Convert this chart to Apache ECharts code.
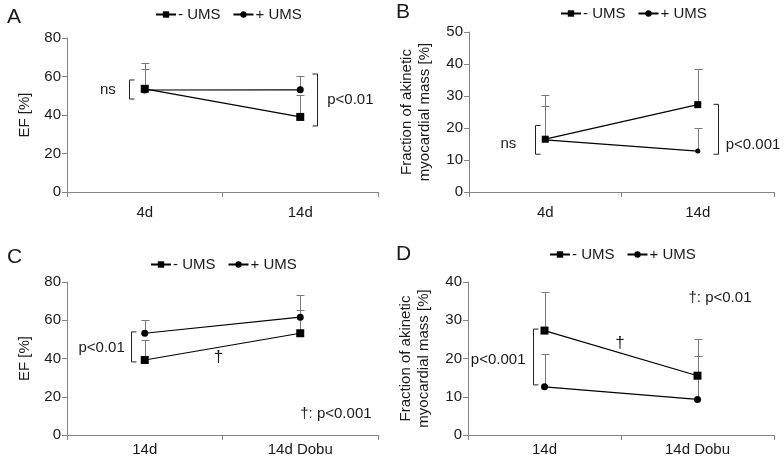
<!DOCTYPE html>
<html><head><meta charset="utf-8">
<script src="https://cdn.jsdelivr.net/npm/echarts@6/dist/echarts.min.js"></script>
<style>html,body{margin:0;padding:0;background:#fff}#c{width:784px;height:465px}</style>
</head><body><div id="c"></div>
<script>
// ---------- data ----------
const catsAB = ['4d', '14d'];
const catsCD = ['14d', '14d Dobu'];
const seriesNames = ['- UMS', '+ UMS'];
// Panel A: EF [%]
const aMinus = [53.6, 39.0];
const aMinusTop = [63.9, 50.2];
const aPlus = [53.0, 53.1];
const aPlusTop = [67.0, 60.4];
// Panel B: fraction of akinetic myocardial mass [%]
const bMinus = [16.5, 27.3];
const bMinusTop = [26.9, 38.4];
const bPlus = [16.3, 12.8];
const bPlusTop = [30.4, 20.1];
// Panel C: EF [%]
const cMinus = [39.2, 53.2];
const cMinusTop = [49.9, 65.5];
const cPlus = [53.2, 61.6];
const cPlusTop = [60.3, 73.0];
// Panel D: fraction of akinetic myocardial mass [%]
const dMinus = [27.3, 15.5];
const dMinusTop = [37.5, 25.2];
const dPlus = [12.6, 9.3];
const dPlusTop = [21.2, 20.7];
// axes
const yMax = [80, 50, 80, 40];
const yStep = [20, 10, 20, 10];
const panelLetters = ['A', 'B', 'C', 'D'];
const yNames = ['EF [%]', 'Fraction of akinetic\nmyocardial mass [%]', 'EF [%]', 'Fraction of akinetic\nmyocardial mass [%]'];

// ---------- chart ----------
const FONT = '"Liberation Sans", Arial, Helvetica, sans-serif';
const TXT = '#1a1a1a';
const AX = '#858585';
const chart = echarts.init(document.getElementById('c'), null, {renderer: 'canvas'});

const grids = [
  {left: 67, top: 38, width: 311, height: 154},
  {left: 469, top: 32, width: 305, height: 160},
  {left: 67, top: 282, width: 311, height: 153},
  {left: 468, top: 282, width: 306, height: 153}
];
const cats = [catsAB, catsAB, catsCD, catsCD];
const labelMargin = [13, 13, 7, 7];
const nameGaps = [33, 35, 33, 35];

const xAxes = cats.map((c, i) => ({
  type: 'category', gridIndex: i, data: c, boundaryGap: true,
  axisLine: {lineStyle: {color: AX, width: 1}},
  axisTick: {show: true, length: 5, lineStyle: {color: AX}},
  axisLabel: {color: TXT, fontSize: 15, fontFamily: FONT, margin: labelMargin[i]},
  splitLine: {show: false}
}));
const yAxes = yMax.map((m, i) => ({
  type: 'value', gridIndex: i, min: 0, max: m, interval: yStep[i],
  name: yNames[i], nameLocation: 'middle', nameGap: nameGaps[i],
  nameTextStyle: {color: TXT, fontSize: 15, fontFamily: FONT, lineHeight: 18},
  axisLine: {show: true, lineStyle: {color: AX, width: 1}},
  axisTick: {show: true, length: 5, lineStyle: {color: AX}},
  axisLabel: {color: TXT, fontSize: 15, fontFamily: FONT, margin: 6},
  splitLine: {show: false}
}));

function lineSeries(idx, name, vals, symbol, size) {
  return {
    type: 'line', name: name, xAxisIndex: idx, yAxisIndex: idx, data: vals,
    symbol: symbol, symbolSize: size, showSymbol: true, z: 3,
    itemStyle: {color: '#000'}, lineStyle: {color: '#000', width: 1.2},
    emphasis: {disabled: true}
  };
}
function errSeries(idx, vals, tops) {
  return {
    type: 'custom', name: 'err', xAxisIndex: idx, yAxisIndex: idx, z: 2, silent: true,
    data: vals.map((v, i) => [i, v, tops[i]]),
    encode: {x: 0, y: [1, 2]},
    renderItem: function (params, api) {
      const p0 = api.coord([api.value(0), api.value(1)]);
      const p1 = api.coord([api.value(0), api.value(2)]);
      const x = Math.round(p0[0]) + 0.5;
      const yt = Math.round(p1[1]) + 0.5;
      return {type: 'group', children: [
        {type: 'line', shape: {x1: x, y1: p0[1], x2: x, y2: yt}, style: {stroke: '#7a7a7a', lineWidth: 1}},
        {type: 'line', shape: {x1: x - 4, y1: yt, x2: x + 4, y2: yt}, style: {stroke: '#7a7a7a', lineWidth: 1}}
      ]};
    }
  };
}

const panelData = [
  [aMinus, aMinusTop, aPlus, aPlusTop],
  [bMinus, bMinusTop, bPlus, bPlusTop],
  [cMinus, cMinusTop, cPlus, cPlusTop],
  [dMinus, dMinusTop, dPlus, dPlusTop]
];
const series = [];
panelData.forEach((d, i) => {
  const sq = i === 1 ? 7 : 8, ci = i === 1 ? 5 : 7;
  series.push(errSeries(i, d[0], d[1]));
  series.push(errSeries(i, d[2], d[3]));
  series.push(lineSeries(i, seriesNames[0], d[0], 'rect', sq));
  series.push(lineSeries(i, seriesNames[1], d[2], 'circle', ci));
});

const legendPos = [[155, 7], [560, 6], [150, 257], [549, 247]];
const legends = legendPos.map(p => ({
  left: p[0], top: p[1], data: seriesNames, orient: 'horizontal', padding: 0,
  itemWidth: 20, itemHeight: 8, itemGap: 12, selectedMode: false,
  textStyle: {color: TXT, fontSize: 15, fontFamily: FONT, padding: [0, 0, 0, -3]}
}));
const titlePos = [[7, 7], [396, 2], [7, 247], [396, 244]];
const titles = titlePos.map((p, i) => ({
  text: panelLetters[i], left: p[0], top: p[1], padding: 0,
  textStyle: {color: TXT, fontSize: 21, fontWeight: 'normal', fontFamily: FONT}
}));

chart.setOption({
  animation: false,
  backgroundColor: '#fff',
  title: titles,
  legend: legends,
  grid: grids,
  xAxis: xAxes,
  yAxis: yAxes,
  series: series
});

// ---------- annotations (positioned through the axes) ----------
function px(g, cat, val) { return chart.convertToPixel({gridIndex: g}, [cat, val]); }
function bracket(g, cat, dx, v1, v2, dir) {
  const a = px(g, cat, v1), b = px(g, cat, v2);
  const x = Math.round(a[0] + dx) + 0.5;
  return {type: 'polyline', silent: true,
    shape: {points: [[x + 5 * dir, a[1]], [x, a[1]], [x, b[1]], [x + 5 * dir, b[1]]]},
    style: {stroke: '#222', fill: null, lineWidth: 1}};
}
function label(g, cat, dx, val, text, align) {
  const a = px(g, cat, val);
  return {type: 'text', silent: true, x: a[0] + dx, y: a[1],
    style: {text: text, fill: TXT, font: '15px ' + FONT, fontSize: 15, fontFamily: FONT,
      align: align, textAlign: align, verticalAlign: 'middle', textVerticalAlign: 'middle'}};
}
function midLabel(g, dx, val, text) {
  const a = px(g, 0, val), b = px(g, 1, val);
  return {type: 'text', silent: true, x: (a[0] + b[0]) / 2 + dx, y: a[1],
    style: {text: text, fill: TXT, font: '17px ' + FONT, fontSize: 17, fontFamily: FONT,
      align: 'center', textAlign: 'center', verticalAlign: 'middle', textVerticalAlign: 'middle'}};
}
const graphics = [
  // A
  bracket(0, 0, -16, 58.2, 48.3, 1),
  label(0, 0, -29, 53, 'ns', 'right'),
  bracket(0, 1, 16.5, 61.3, 34.3, -1),
  label(0, 1, 27, 47.8, 'p<0.01', 'left'),
  // B
  bracket(1, 0, -10.5, 20.8, 11.8, 1),
  label(1, 0, -29, 14.9, 'ns', 'right'),
  bracket(1, 1, 20, 27.4, 11.8, -1),
  label(1, 1, 28, 14.6, 'p<0.001', 'left'),
  // C
  bracket(2, 0, -14, 53.9, 38.2, 1),
  label(2, 0, -20, 45.5, 'p<0.01', 'right'),
  midLabel(2, -4, 40.8, '†'),
  label(2, 1, 0, 11, '†: p<0.001', 'left'),
  // D
  bracket(3, 0, -12, 27.7, 13.1, 1),
  label(3, 0, -19, 19.6, 'p<0.001', 'right'),
  midLabel(3, -1, 24, '†'),
  label(3, 1, -9, 35.8, '†: p<0.01', 'left')
];
chart.setOption({graphic: graphics});
</script>
</body></html>
